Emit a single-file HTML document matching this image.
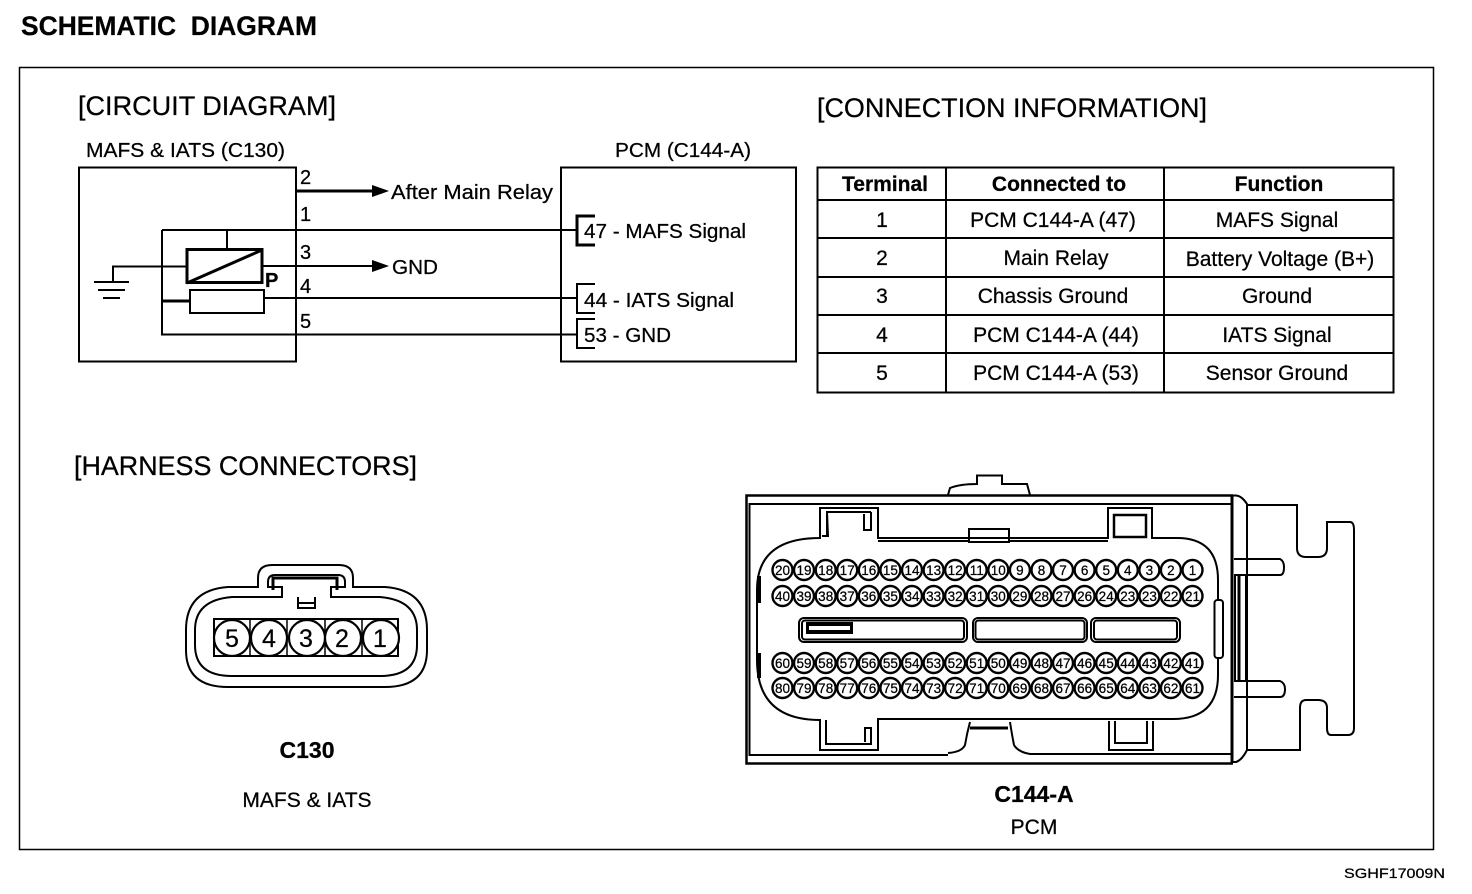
<!DOCTYPE html>
<html><head><meta charset="utf-8"><style>
html,body{margin:0;padding:0;background:#fff;width:1472px;height:894px;overflow:hidden}
svg{display:block}
text{font-family:"Liberation Sans",sans-serif;fill:#000;stroke:#000;stroke-width:.25}
.l{fill:none;stroke:#000;stroke-width:2}
.t{fill:none;stroke:#000;stroke-width:1.5}
.k{fill:none;stroke:#000;stroke-width:3}
.c{text-anchor:middle;font-size:21px}
.h{text-anchor:middle;font-size:21px;font-weight:bold}
.p circle{fill:#fff;stroke:#000;stroke-width:2.4}
.p text{font-size:13.5px;text-anchor:middle}
</style></head><body>
<svg width="1472" height="894" viewBox="0 0 1472 894" xmlns="http://www.w3.org/2000/svg">
<text x="21" y="35" font-size="27" font-weight="bold" xml:space="preserve" style="white-space:pre" textLength="296" lengthAdjust="spacingAndGlyphs">SCHEMATIC  DIAGRAM</text>
<rect x="19.500" y="67.500" width="1414" height="782" class="t"/>
<text x="78" y="115" font-size="27" textLength="258" lengthAdjust="spacingAndGlyphs">[CIRCUIT DIAGRAM]</text>
<text x="817" y="117" font-size="27" textLength="390" lengthAdjust="spacingAndGlyphs">[CONNECTION INFORMATION]</text>
<text x="74" y="475" font-size="27" textLength="343" lengthAdjust="spacingAndGlyphs">[HARNESS CONNECTORS]</text>

<!-- circuit -->
<text x="86" y="157" font-size="20" textLength="199" lengthAdjust="spacingAndGlyphs">MAFS &amp; IATS (C130)</text>
<text x="615" y="157" font-size="20" textLength="136" lengthAdjust="spacingAndGlyphs">PCM (C144-A)</text>
<rect x="79" y="167.500" width="217" height="194" class="l"/>
<rect x="561" y="167.500" width="235" height="194" class="l"/>
<path d="M296 191H375" class="k"/><path d="M372 185L389 191L372 197Z"/>
<text x="391" y="199" font-size="20" textLength="162" lengthAdjust="spacingAndGlyphs">After Main Relay</text>
<path d="M162 230H577M162 230V334.500H577M227 230V249" class="l"/>
<path d="M113 281V266.500H187" class="l"/>
<path d="M94 282H129" class="l"/><path d="M98 290H125" class="l"/><path d="M103 298H120" class="l"/>
<rect x="187" y="249.500" width="75" height="33" class="k"/>
<path d="M187 283L262 250" class="k"/>
<path d="M262 266H375" class="l"/><path d="M372 260L389 266L372 272Z"/>
<text x="392" y="274" font-size="20" textLength="46" lengthAdjust="spacingAndGlyphs">GND</text>
<text x="265" y="287" font-size="20" font-weight="bold">P</text>
<rect x="190" y="290" width="74" height="23" class="l"/>
<path d="M162 301H190" class="k"/>
<path d="M264 298H577" class="l"/>
<text x="300" y="184" font-size="20">2</text><text x="300" y="221" font-size="20">1</text><text x="300" y="259" font-size="20">3</text><text x="300" y="293" font-size="20">4</text><text x="300" y="328" font-size="20">5</text>
<path d="M595 216H577V245H595" class="k"/>
<path d="M595 284H577V313H595M595 319H577V348H595" class="l"/>
<text x="584" y="238" font-size="20" textLength="162" lengthAdjust="spacingAndGlyphs">47 - MAFS Signal</text>
<text x="584" y="307" font-size="20" textLength="150" lengthAdjust="spacingAndGlyphs">44 - IATS Signal</text>
<text x="584" y="342" font-size="20" textLength="87" lengthAdjust="spacingAndGlyphs">53 - GND</text>

<!-- table -->
<rect x="817.500" y="167.500" width="576" height="225" class="l"/>
<path d="M817 200H1394M817 238H1394M817 277H1394M817 315H1394M817 353H1394M946 167V392M1164 167V392" class="l"/>
<text x="885" y="191" class="h">Terminal</text><text x="1059" y="191" class="h">Connected to</text><text x="1279" y="191" class="h">Function</text>
<text x="882" y="227" class="c">1</text><text x="1053" y="227" class="c">PCM C144-A (47)</text><text x="1277" y="227" class="c">MAFS Signal</text>
<text x="882" y="265" class="c">2</text><text x="1056" y="265" class="c">Main Relay</text><text x="1280" y="266" class="c">Battery Voltage (B+)</text>
<text x="882" y="303" class="c">3</text><text x="1053" y="303" class="c">Chassis Ground</text><text x="1277" y="303" class="c">Ground</text>
<text x="882" y="342" class="c">4</text><text x="1056" y="342" class="c">PCM C144-A (44)</text><text x="1277" y="342" class="c">IATS Signal</text>
<text x="882" y="380" class="c">5</text><text x="1056" y="380" class="c">PCM C144-A (53)</text><text x="1277" y="380" class="c">Sensor Ground</text>

<!-- C130 connector -->
<path d="M258 587V578Q258 565 272 565H339Q353 565 353 578V587H385Q427 590 427 630V650Q427 687 385 687H228Q186 687 186 650V630Q186 590 228 587Z" class="l"/>
<path d="M282 597H232Q195 600 195 630V645Q195 676 232 676H380Q417 676 417 645V630Q417 600 380 597H331V587H345V582Q345 575 338 575H275Q268 575 268 582V587H282Z" class="l"/>
<path d="M273 590V578H337V590" class="k"/>
<path d="M298 597V608H315V597M298 603H315" class="l"/>
<rect x="214" y="619" width="184" height="37" class="l"/>
<path d="M250 619V656M287 619V656M325 619V656M362 619V656" class="t"/>
<g fill="#fff" stroke="#000" stroke-width="2.200">
<circle cx="232" cy="638" r="18"/><circle cx="269" cy="638" r="18"/><circle cx="307" cy="638" r="18"/><circle cx="343" cy="638" r="18"/><circle cx="381" cy="638" r="18"/></g>
<g font-size="25" text-anchor="middle"><text x="232" y="647">5</text><text x="269" y="647">4</text><text x="306" y="647">3</text><text x="342" y="647">2</text><text x="380" y="647">1</text></g>
<text x="307" y="758" font-size="23" font-weight="bold" text-anchor="middle">C130</text>
<text x="307" y="807" font-size="21" text-anchor="middle">MAFS &amp; IATS</text>

<!-- C144-A connector -->
<path d="M948 495L950 488Q960 484 977 484V475.500H1002V484H1027L1030 495" class="l"/>
<path d="M1233 495.500H746.500V763.500H1233" class="k" style="stroke-width:2.500"/>
<path d="M1232 504H749.500V755H948M948 753Q962 752 965 745Q967 733 970 722M1010 722Q1012 735 1014 745Q1018 752 1030 754H1232" class="l"/>
<path d="M1232 496V763" class="k"/>
<path d="M1233 495.500H1236Q1242 496 1247 504V750Q1242 760 1236 762H1233" class="l"/>
<path d="M820 538Q757 538 757 590V660Q757 720 820 720V750H878V719H1173Q1218 719 1218 675V580Q1218 538 1177 538H1152V508H1108V538H878V508H820Z" class="l"/>
<path d="M827 514V536M822 536H828L827 512H871M871 512V530H864V514M878 538H1108M826 720V744H871V728H865V742" class="l"/>
<path d="M878 541H968M1010 541H1108" class="l"/>
<rect x="969" y="529" width="40" height="13" class="l"/>
<rect x="1114" y="515" width="32" height="22" class="k" style="stroke-width:2.500"/>
<path d="M1109 721V750H1153V721M1115 721V743H1147V721" class="l"/>
<path d="M970 728H1008" class="k"/>
<path d="M1247 505H1297V548Q1297 557 1306 557H1318Q1327 557 1327 548V522H1350Q1354 522 1354 530V728Q1354 735 1348 735H1331Q1327 735 1327 728V708Q1327 700 1318 700H1306Q1300 700 1300 708V750H1247" class="l"/>
<path d="M1234 559H1280Q1284 561 1284 567Q1284 575 1280 575H1234M1234 681H1280Q1285 683 1285 689Q1285 697 1280 697H1234" class="l"/>
<path d="M1235 575V681M1246 575V681" class="l"/><path d="M1239 575V681" class="k"/>
<rect x="1214.500" y="600" width="8.500" height="58" rx="3" fill="#fff" stroke="#000" stroke-width="2"/>
<rect x="757" y="576" width="4" height="27" fill="#000"/><rect x="757" y="653" width="4" height="25" fill="#000"/>
<rect x="799" y="618" width="168" height="24" rx="5" class="l"/><rect x="802" y="620.500" width="162" height="19" rx="3" class="l"/>
<rect x="973" y="618" width="114" height="24" rx="5" class="l"/><rect x="975.500" y="620.500" width="109" height="19" rx="3" class="l"/>
<rect x="1091" y="618" width="89" height="24" rx="5" class="l"/><rect x="1094" y="620.500" width="83" height="19" rx="3" class="l"/>
<rect x="806" y="622" width="47" height="12" fill="#000"/><rect x="809" y="626" width="41" height="4" fill="#fff"/>
<g class="p">
<g transform="translate(782.500)"><circle cy="570" r="10"/><text y="575">20</text><circle cy="596" r="10"/><text y="601">40</text><circle cy="663" r="10"/><text y="668">60</text><circle cy="688" r="10"/><text y="693">80</text></g>
<g transform="translate(804)"><circle cy="570" r="10"/><text y="575">19</text><circle cy="596" r="10"/><text y="601">39</text><circle cy="663" r="10"/><text y="668">59</text><circle cy="688" r="10"/><text y="693">79</text></g>
<g transform="translate(825.700)"><circle cy="570" r="10"/><text y="575">18</text><circle cy="596" r="10"/><text y="601">38</text><circle cy="663" r="10"/><text y="668">58</text><circle cy="688" r="10"/><text y="693">78</text></g>
<g transform="translate(847.200)"><circle cy="570" r="10"/><text y="575">17</text><circle cy="596" r="10"/><text y="601">37</text><circle cy="663" r="10"/><text y="668">57</text><circle cy="688" r="10"/><text y="693">77</text></g>
<g transform="translate(868.800)"><circle cy="570" r="10"/><text y="575">16</text><circle cy="596" r="10"/><text y="601">36</text><circle cy="663" r="10"/><text y="668">56</text><circle cy="688" r="10"/><text y="693">76</text></g>
<g transform="translate(890.400)"><circle cy="570" r="10"/><text y="575">15</text><circle cy="596" r="10"/><text y="601">35</text><circle cy="663" r="10"/><text y="668">55</text><circle cy="688" r="10"/><text y="693">75</text></g>
<g transform="translate(912)"><circle cy="570" r="10"/><text y="575">14</text><circle cy="596" r="10"/><text y="601">34</text><circle cy="663" r="10"/><text y="668">54</text><circle cy="688" r="10"/><text y="693">74</text></g>
<g transform="translate(933.600)"><circle cy="570" r="10"/><text y="575">13</text><circle cy="596" r="10"/><text y="601">33</text><circle cy="663" r="10"/><text y="668">53</text><circle cy="688" r="10"/><text y="693">73</text></g>
<g transform="translate(955.100)"><circle cy="570" r="10"/><text y="575">12</text><circle cy="596" r="10"/><text y="601">32</text><circle cy="663" r="10"/><text y="668">52</text><circle cy="688" r="10"/><text y="693">72</text></g>
<g transform="translate(976.700)"><circle cy="570" r="10"/><text y="575">11</text><circle cy="596" r="10"/><text y="601">31</text><circle cy="663" r="10"/><text y="668">51</text><circle cy="688" r="10"/><text y="693">71</text></g>
<g transform="translate(998.300)"><circle cy="570" r="10"/><text y="575">10</text><circle cy="596" r="10"/><text y="601">30</text><circle cy="663" r="10"/><text y="668">50</text><circle cy="688" r="10"/><text y="693">70</text></g>
<g transform="translate(1019.900)"><circle cy="570" r="10"/><text y="575">9</text><circle cy="596" r="10"/><text y="601">29</text><circle cy="663" r="10"/><text y="668">49</text><circle cy="688" r="10"/><text y="693">69</text></g>
<g transform="translate(1041.500)"><circle cy="570" r="10"/><text y="575">8</text><circle cy="596" r="10"/><text y="601">28</text><circle cy="663" r="10"/><text y="668">48</text><circle cy="688" r="10"/><text y="693">68</text></g>
<g transform="translate(1063)"><circle cy="570" r="10"/><text y="575">7</text><circle cy="596" r="10"/><text y="601">27</text><circle cy="663" r="10"/><text y="668">47</text><circle cy="688" r="10"/><text y="693">67</text></g>
<g transform="translate(1084.600)"><circle cy="570" r="10"/><text y="575">6</text><circle cy="596" r="10"/><text y="601">26</text><circle cy="663" r="10"/><text y="668">46</text><circle cy="688" r="10"/><text y="693">66</text></g>
<g transform="translate(1106.200)"><circle cy="570" r="10"/><text y="575">5</text><circle cy="596" r="10"/><text y="601">24</text><circle cy="663" r="10"/><text y="668">45</text><circle cy="688" r="10"/><text y="693">65</text></g>
<g transform="translate(1127.800)"><circle cy="570" r="10"/><text y="575">4</text><circle cy="596" r="10"/><text y="601">23</text><circle cy="663" r="10"/><text y="668">44</text><circle cy="688" r="10"/><text y="693">64</text></g>
<g transform="translate(1149.400)"><circle cy="570" r="10"/><text y="575">3</text><circle cy="596" r="10"/><text y="601">23</text><circle cy="663" r="10"/><text y="668">43</text><circle cy="688" r="10"/><text y="693">63</text></g>
<g transform="translate(1170.900)"><circle cy="570" r="10"/><text y="575">2</text><circle cy="596" r="10"/><text y="601">22</text><circle cy="663" r="10"/><text y="668">42</text><circle cy="688" r="10"/><text y="693">62</text></g>
<g transform="translate(1192.500)"><circle cy="570" r="10"/><text y="575">1</text><circle cy="596" r="10"/><text y="601">21</text><circle cy="663" r="10"/><text y="668">41</text><circle cy="688" r="10"/><text y="693">61</text></g>
</g>
<text x="1034" y="802" font-size="23" font-weight="bold" text-anchor="middle">C144-A</text>
<text x="1034" y="834" font-size="21" text-anchor="middle">PCM</text>
<text x="1344" y="878" font-size="14" textLength="101" lengthAdjust="spacingAndGlyphs">SGHF17009N</text>
</svg>
</body></html>
